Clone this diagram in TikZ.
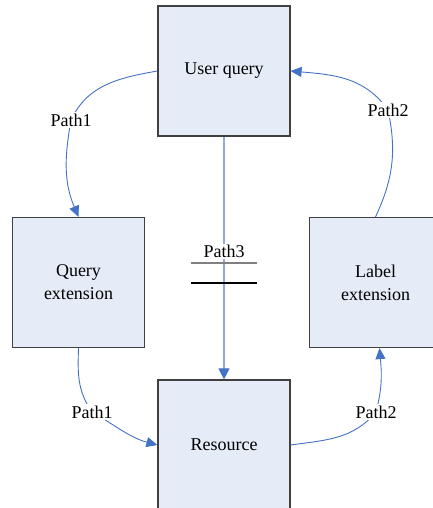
\documentclass[tikz,border=0pt]{standalone}
\usepackage{fontspec}
\setmainfont{Liberation Serif}
\newfontfamily\diagfont{Liberation Serif}
\usetikzlibrary{arrows.meta,calc}
\pgfdeclarelayer{bg}
\pgfsetlayers{bg,main}
\definecolor{boxfill}{RGB}{230,236,247}
\definecolor{boxline}{RGB}{64,64,64}
\definecolor{conncol}{RGB}{68,114,196}
\definecolor{connlight}{RGB}{143,170,220}
\definecolor{midgray}{RGB}{128,128,128}
\begin{document}
\begin{tikzpicture}[x=1pt,y=1pt,
  box/.style={draw=boxline,line width=1.2pt,fill=boxfill,minimum width=132pt,minimum height=130pt,inner sep=0pt,align=center,font=\diagfont\fontsize{18}{23}\selectfont},
  lbl/.style={fill=white,inner sep=1.5pt,font=\diagfont\fontsize{18}{23}\selectfont},
  connector/.style={draw=conncol,line width=0.9pt,-{Triangle[length=11pt,width=10pt,color=conncol]}},
  mainconn/.style={draw=connlight,line width=1.1pt,-{Triangle[length=11pt,width=11pt,color=conncol]}},
  bar/.style={line width=1.4pt}]
\useasboundingbox (0,0) rectangle (432,508);
% boxes
\node[box] (uq) at (224,437) {User query};
\node[box] (qe) at (78.5,225.5) {Query\\extension};
\node[box] (le) at (375.5,225.5) {Label\\extension};
\node[box] (res) at (224,63) {Resource};
% labels
\node[lbl] (p1a) at (71,388) {Path1};
\node[lbl] (p2a) at (388,398) {Path2};
\node[lbl] (p1b) at (92,96) {Path1};
\node[lbl] (p2b) at (376,96) {Path2};
\node[lbl] (p3) at (224,256.5) {Path3};
% store bars under Path3
\coordinate (g1) at (191,245);
\coordinate (g2) at (257,245);
\coordinate (k1) at (191,225);
\coordinate (k2) at (257,225);
% connectors
\begin{pgfonlayer}{bg}
\draw[connector] (uq.west) to[out=190,in=65] (p1a.center) to[out=260,in=113] (qe.north);
\draw[connector] (le.north) to[out=65,in=-78] (p2a.center) to[out=125,in=-5] (uq.east);
\draw[connector] (qe.south) to[out=268,in=125] (p1b.center) to[out=-30,in=165] (res.west);
\draw[connector] (res.east) to[out=8,in=230] (p2b.center) to[out=75,in=275] ([xshift=4pt]le.south);
\draw[mainconn] (uq.south) -- (res.north);
\end{pgfonlayer}
\draw[bar,draw=midgray] (g1) -- (g2);
\draw[bar,draw=black] (k1) -- (k2);
\end{tikzpicture}
\end{document}
